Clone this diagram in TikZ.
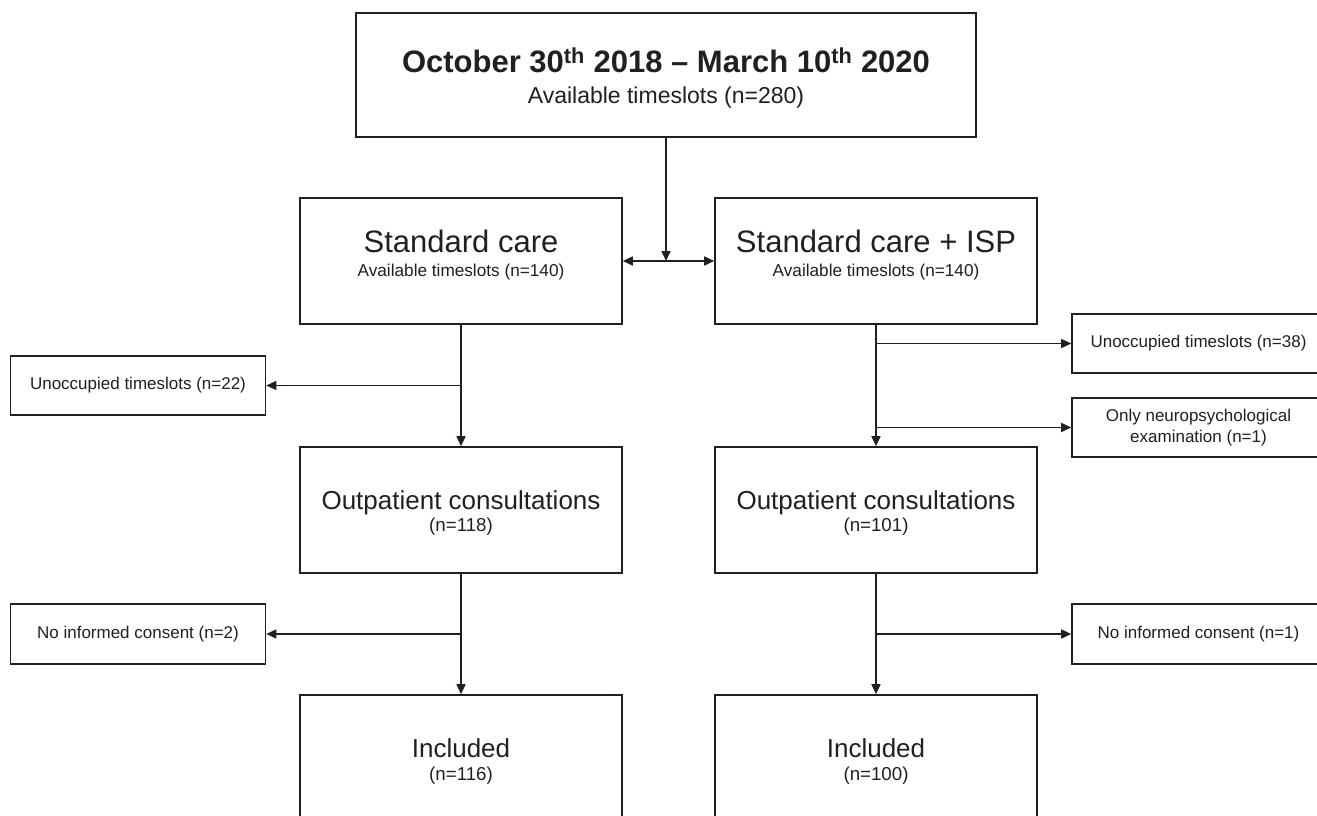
\documentclass[tikz,border=0pt]{standalone}
\usepackage{fontspec}
\setmainfont{Liberation Sans}
\usetikzlibrary{arrows.meta}
\definecolor{ink}{HTML}{231F20}
\begin{document}
\begin{tikzpicture}[x=1pt,y=-1pt,
  box/.style={draw=ink, line width=1.6pt, rectangle, inner sep=0pt, text=ink, align=center},
  txt/.style={text=ink, inner sep=0pt, anchor=base},
  smalltxt/.style={font=\fontsize{17}{20.5}\selectfont},
  bigtxt/.style={font=\fontsize{31}{31}\selectfont},
  midtxt/.style={font=\fontsize{26}{26}\selectfont},
  subtxt/.style={font=\fontsize{17.2}{17.2}\selectfont},
  ntxt/.style={font=\fontsize{18.7}{18.7}\selectfont},
  conn/.style={draw=ink, line width=1.6pt},
  arr/.style={conn, -{Triangle[length=10pt,width=9pt]}},
  darr/.style={conn, {Triangle[length=10pt,width=9pt]}-{Triangle[length=10pt,width=9pt]}},
]
\clip (0,0) rectangle (1317,816);
\fill[white] (0,0) rectangle (1317,816);

% main boxes
\node[box, minimum width=620pt, minimum height=124pt] (top) at (666,75) {};
\node[box, minimum width=322pt, minimum height=126pt] (sc) at (461,261) {};
\node[box, minimum width=322pt, minimum height=126pt] (isp) at (876,261) {};
\node[box, minimum width=322pt, minimum height=126pt] (op1) at (461,510) {};
\node[box, minimum width=322pt, minimum height=126pt] (op2) at (876,510) {};
\node[box, minimum width=322pt, minimum height=126pt] (inc1) at (461,758) {};
\node[box, minimum width=322pt, minimum height=126pt] (inc2) at (876,758) {};

% side boxes
\node[box, smalltxt, minimum width=255pt, minimum height=59pt] (un22) at (138,385.5) {Unoccupied timeslots (n=22)};
\node[box, smalltxt, minimum width=253pt, minimum height=59pt] (un38) at (1198.5,343.5) {Unoccupied timeslots (n=38)};
\node[box, smalltxt, minimum width=253pt, minimum height=59pt] (neuro) at (1198.5,427.5) {Only neuropsychological\\examination (n=1)};
\node[box, smalltxt, minimum width=255pt, minimum height=60pt] (nic2) at (138,634) {No informed consent (n=2)};
\node[box, smalltxt, minimum width=253pt, minimum height=60pt] (nic1) at (1198.5,634) {No informed consent (n=1)};

% texts
\node[txt, font=\fontsize{31}{31}\selectfont\bfseries] (t1) at (666,73) {October 30\textsuperscript{th} 2018 – March 10\textsuperscript{th} 2020};
\node[txt, font=\fontsize{23}{23}\selectfont] (t2) at (666,103) {Available timeslots (n=280)};
\node[txt, bigtxt] (sct) at (461,252) {Standard care};
\node[txt, subtxt] (scs) at (461,276) {Available timeslots (n=140)};
\node[txt, bigtxt] (ispt) at (876,252) {Standard care + ISP};
\node[txt, subtxt] (isps) at (876,276) {Available timeslots (n=140)};
\node[txt, midtxt] (op1t) at (461,509) {Outpatient consultations};
\node[txt, ntxt] (op1s) at (461,531) {(n=118)};
\node[txt, midtxt] (op2t) at (876,509) {Outpatient consultations};
\node[txt, ntxt] (op2s) at (876,531) {(n=101)};
\node[txt, midtxt] (inc1t) at (461,757) {Included};
\node[txt, ntxt] (inc1s) at (461,780) {(n=116)};
\node[txt, midtxt] (inc2t) at (876,757) {Included};
\node[txt, ntxt] (inc2s) at (876,780) {(n=100)};

% connectors
\coordinate (j) at (666,261);
\draw[arr] (top.south) -- (j);
\draw[darr] (sc.east) -- (isp.west);

\draw[arr] (sc.south) -- (op1.north);
\draw[arr] (sc.south |- un22.east) -- (un22.east);
\draw[arr] (isp.south) -- (op2.north);
\draw[arr] (isp.south |- un38.west) -- (un38.west);
\draw[arr] (isp.south |- neuro.west) -- (neuro.west);

\draw[arr] (op1.south) -- (inc1.north);
\draw[arr] (op1.south |- nic2.east) -- (nic2.east);
\draw[arr] (op2.south) -- (inc2.north);
\draw[arr] (op2.south |- nic1.west) -- (nic1.west);
\end{tikzpicture}
\end{document}
